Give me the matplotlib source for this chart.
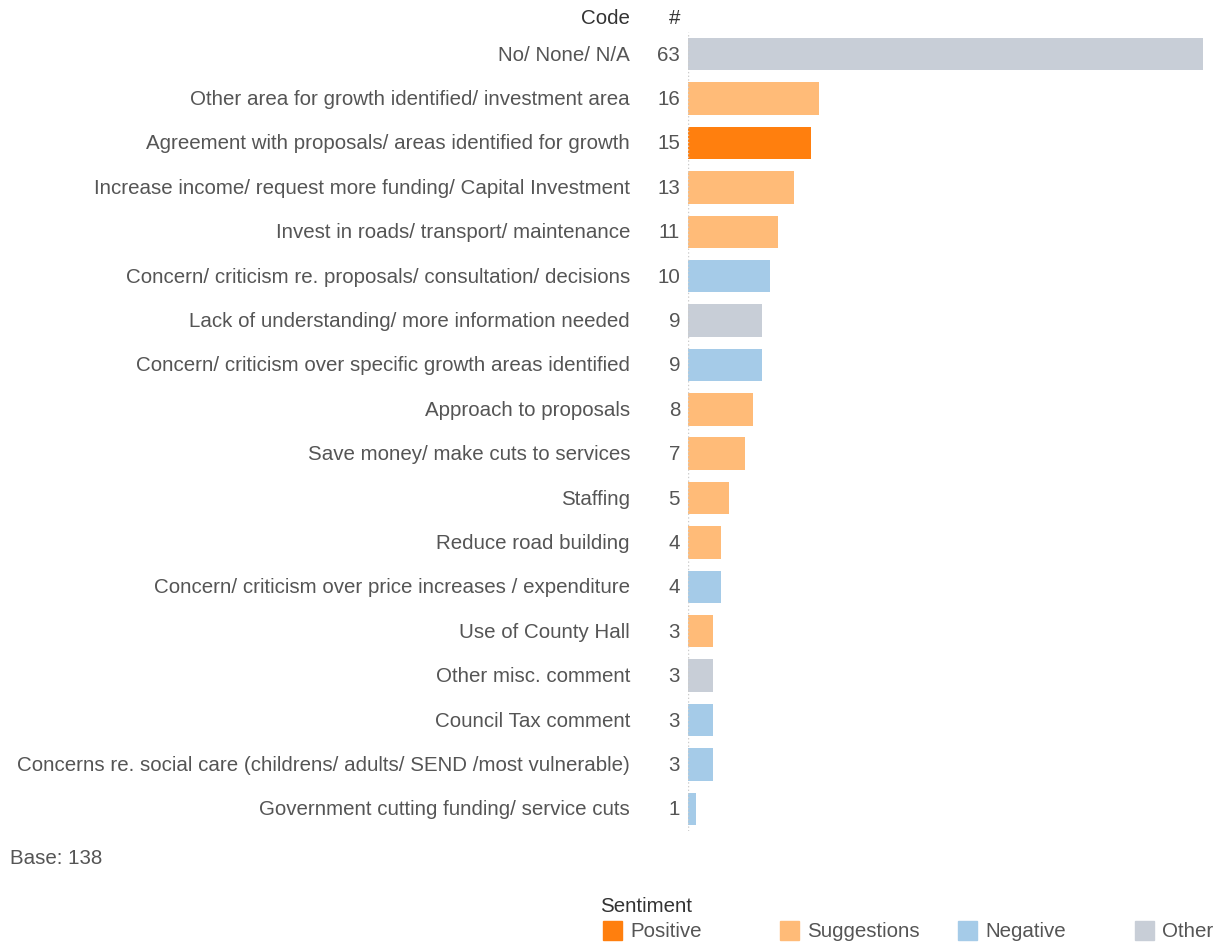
import matplotlib
matplotlib.use("Agg")
import matplotlib.pyplot as plt
from matplotlib.patches import Rectangle

codes = [
    "No/ None/ N/A",
    "Other area for growth identified/ investment area",
    "Agreement with proposals/ areas identified for growth",
    "Increase income/ request more funding/ Capital Investment",
    "Invest in roads/ transport/ maintenance",
    "Concern/ criticism re. proposals/ consultation/ decisions",
    "Lack of understanding/ more information needed",
    "Concern/ criticism over specific growth areas identified",
    "Approach to proposals",
    "Save money/ make cuts to services",
    "Staffing",
    "Reduce road building",
    "Concern/ criticism over price increases / expenditure",
    "Use of County Hall",
    "Other misc. comment",
    "Council Tax comment",
    "Concerns re. social care (childrens/ adults/ SEND /most vulnerable)",
    "Government cutting funding/ service cuts",
]
counts = [63, 16, 15, 13, 11, 10, 9, 9, 8, 7, 5, 4, 4, 3, 3, 3, 3, 1]
sentiment = ["Other", "Suggestions", "Positive", "Suggestions", "Suggestions",
             "Negative", "Other", "Negative", "Suggestions", "Suggestions",
             "Suggestions", "Suggestions", "Negative", "Suggestions", "Other",
             "Negative", "Negative", "Negative"]
base = 138

palette = {"Positive": "#ff7f0e", "Suggestions": "#ffbb78",
           "Negative": "#a5cbe8", "Other": "#c8ced7"}
txt = "#555555"
fs = 14.8

plt.rcParams["font.family"] = ["Liberation Sans", "DejaVu Sans"]
fig = plt.figure(figsize=(12.21, 9.45), dpi=100)
ax = fig.add_axes([688/1221, 1 - 832/945, (1203 - 688)/1221, (832 - 33)/945])

y = list(range(len(codes)))
ax.barh(y, counts, height=0.73, color=[palette[s] for s in sentiment])
ax.set_ylim(len(codes) - 0.5, -0.5)
ax.set_xlim(0, max(counts))
ax.axvline(0, color="#cccccc", lw=1, ls=":")
for s in ax.spines.values():
    s.set_visible(False)
ax.set_xticks([])
ax.set_yticks([])

tr = ax.get_yaxis_transform()
for i, (c, n) in enumerate(zip(codes, counts)):
    ax.text(-58/515, i, c, transform=tr, ha="right", va="center", fontsize=fs, color=txt)
    ax.text(-8/515, i, str(n), transform=tr, ha="right", va="center", fontsize=fs, color=txt)

fig.text(630/1221, 1 - 19/945, "Code", ha="right", va="center", fontsize=fs, color="#333333")
fig.text(680/1221, 1 - 19/945, "#", ha="right", va="center", fontsize=fs, color="#333333")
fig.text(10/1221, 1 - 859/945, f"Base: {base}", ha="left", va="center", fontsize=fs, color=txt)

# legend
fig.text(600/1221, 1 - 907/945, "Sentiment", ha="left", va="center", fontsize=fs, color="#333333")
lx = [603, 780, 958, 1135]
for x0, name in zip(lx, ["Positive", "Suggestions", "Negative", "Other"]):
    fig.add_artist(Rectangle((x0/1221, 1 - 941/945), 19/1221, 19/945,
                             transform=fig.transFigure, color=palette[name]))
    fig.text((x0 + 27)/1221, 1 - 932/945, name, ha="left", va="center", fontsize=fs, color=txt)

fig.savefig("out.png", dpi=100)
